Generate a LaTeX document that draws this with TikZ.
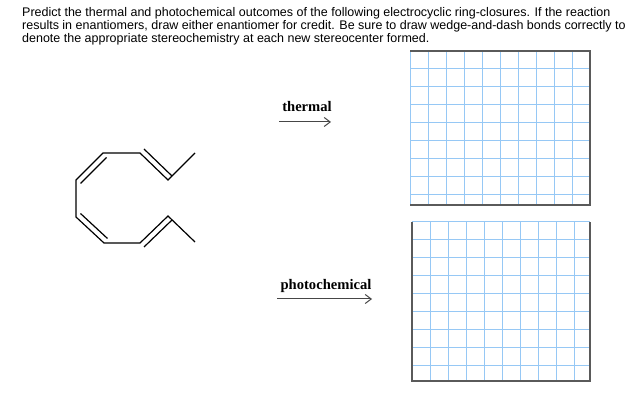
\documentclass[tikz,border=0pt]{standalone}
\usepackage{fontspec}
\usetikzlibrary{arrows.meta}
\setmainfont{Liberation Sans}
\newfontfamily\serifb{Liberation Serif}
\begin{document}
\begin{tikzpicture}[x=1pt,y=-1pt,
  gl/.style={draw={rgb,255:red,150;green,200;blue,245},line width=1pt},
  bd/.style={draw={rgb,255:red,90;green,90;blue,90},line width=1.3pt},
  bond/.style={line width=1.2pt},
  lbl/.style={font=\serifb\bfseries\fontsize{14.6}{15}\selectfont,inner sep=0pt},
  arr/.style={draw={rgb,255:red,70;green,70;blue,70},line width=1pt,-{Straight Barb[length=6pt,width=9pt]}}]
\useasboundingbox (0,0) rectangle (638,414);
\node[anchor=north west,align=left,inner sep=0pt,font=\fontsize{12.5}{13}\selectfont] (txt) at (22,7)
 {Predict the thermal and photochemical outcomes of the following electrocyclic ring-closures. If the reaction\\
  results in enantiomers, draw either enantiomer for credit. Be sure to draw wedge-and-dash bonds correctly to\\
  denote the appropriate stereochemistry at each new stereocenter formed.};
% grid 1
\foreach \x in {410,428,...,572} \draw[gl] (\x,51) -- (\x,205);
\foreach \y in {51,69,...,195} \draw[gl] (410,\y) -- (590,\y);
\draw[bd] (410,51) -- (590,51) -- (590,205) -- (410,205);
% grid 2
\foreach \x in {412,430,...,574} \draw[gl] (\x,222) -- (\x,381);
\foreach \y in {222,240,...,366} \draw[gl] (412,\y) -- (590,\y);
\draw[bd] (412,222) -- (412,381) -- (590,381) -- (590,222);
% arrows
\node[lbl] (t1) at (307,107) {thermal};
\coordinate (a1) at (279,122); \coordinate (b1) at (331,122);
\draw[arr] (a1) -- (b1);
\node[lbl] (t2) at (326,286) {photochemical};
\coordinate (a2) at (277,299); \coordinate (b2) at (372,299);
\draw[arr] (a2) -- (b2);
% molecule
\coordinate (c1) at (76,180); \coordinate (c2) at (103,153); \coordinate (c3) at (140,153);
\coordinate (c4) at (168,180); \coordinate (c5) at (195,153);
\coordinate (c6) at (76,217); \coordinate (c7) at (104,243); \coordinate (c8) at (140,243);
\coordinate (c9) at (168,216); \coordinate (c10) at (195,242);
\draw[bond] (c5) -- (c4) -- (c3) -- (c2) -- (c1) -- (c6) -- (c7) -- (c8) -- (c9) -- (c10);
\draw[bond] ([shift={(4.5,3.5)}]c1) -- ([shift={(3.5,4.5)}]c2);
\draw[bond] ([shift={(4,-4)}]c3) -- ([shift={(4,-4)}]c4);
\draw[bond] ([shift={(4.5,-3.5)}]c6) -- ([shift={(3.5,-4.5)}]c7);
\draw[bond] ([shift={(4,4)}]c8) -- ([shift={(4,4)}]c9);
\end{tikzpicture}
\end{document}
